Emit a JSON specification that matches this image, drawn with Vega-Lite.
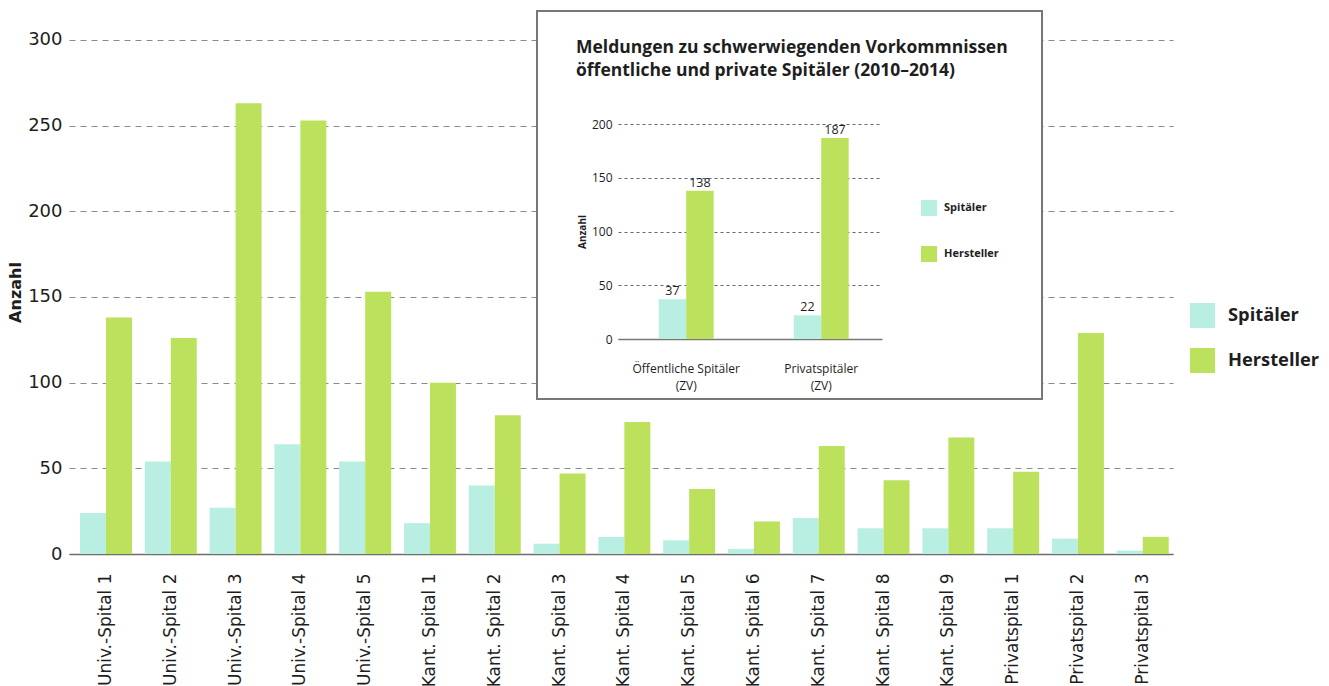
{
  "$schema": "https://vega.github.io/schema/vega-lite/v6.json",
  "padding": {"left": 7, "top": 10, "right": 5, "bottom": 0},
  "datasets": {
    "main": [
      {"spital": "Univ.-Spital 1", "typ": "Spitäler", "anzahl": 24},
      {"spital": "Univ.-Spital 1", "typ": "Hersteller", "anzahl": 138},
      {"spital": "Univ.-Spital 2", "typ": "Spitäler", "anzahl": 54},
      {"spital": "Univ.-Spital 2", "typ": "Hersteller", "anzahl": 126},
      {"spital": "Univ.-Spital 3", "typ": "Spitäler", "anzahl": 27},
      {"spital": "Univ.-Spital 3", "typ": "Hersteller", "anzahl": 263},
      {"spital": "Univ.-Spital 4", "typ": "Spitäler", "anzahl": 64},
      {"spital": "Univ.-Spital 4", "typ": "Hersteller", "anzahl": 253},
      {"spital": "Univ.-Spital 5", "typ": "Spitäler", "anzahl": 54},
      {"spital": "Univ.-Spital 5", "typ": "Hersteller", "anzahl": 153},
      {"spital": "Kant. Spital 1", "typ": "Spitäler", "anzahl": 18},
      {"spital": "Kant. Spital 1", "typ": "Hersteller", "anzahl": 100},
      {"spital": "Kant. Spital 2", "typ": "Spitäler", "anzahl": 40},
      {"spital": "Kant. Spital 2", "typ": "Hersteller", "anzahl": 81},
      {"spital": "Kant. Spital 3", "typ": "Spitäler", "anzahl": 6},
      {"spital": "Kant. Spital 3", "typ": "Hersteller", "anzahl": 47},
      {"spital": "Kant. Spital 4", "typ": "Spitäler", "anzahl": 10},
      {"spital": "Kant. Spital 4", "typ": "Hersteller", "anzahl": 77},
      {"spital": "Kant. Spital 5", "typ": "Spitäler", "anzahl": 8},
      {"spital": "Kant. Spital 5", "typ": "Hersteller", "anzahl": 38},
      {"spital": "Kant. Spital 6", "typ": "Spitäler", "anzahl": 3},
      {"spital": "Kant. Spital 6", "typ": "Hersteller", "anzahl": 19},
      {"spital": "Kant. Spital 7", "typ": "Spitäler", "anzahl": 21},
      {"spital": "Kant. Spital 7", "typ": "Hersteller", "anzahl": 63},
      {"spital": "Kant. Spital 8", "typ": "Spitäler", "anzahl": 15},
      {"spital": "Kant. Spital 8", "typ": "Hersteller", "anzahl": 43},
      {"spital": "Kant. Spital 9", "typ": "Spitäler", "anzahl": 15},
      {"spital": "Kant. Spital 9", "typ": "Hersteller", "anzahl": 68},
      {"spital": "Privatspital 1", "typ": "Spitäler", "anzahl": 15},
      {"spital": "Privatspital 1", "typ": "Hersteller", "anzahl": 48},
      {"spital": "Privatspital 2", "typ": "Spitäler", "anzahl": 9},
      {"spital": "Privatspital 2", "typ": "Hersteller", "anzahl": 129},
      {"spital": "Privatspital 3", "typ": "Spitäler", "anzahl": 2},
      {"spital": "Privatspital 3", "typ": "Hersteller", "anzahl": 10}
    ],
    "inset": [
      {"gruppe": "Öffentliche Spitäler (ZV)", "typ": "Spitäler", "anzahl": 37},
      {"gruppe": "Öffentliche Spitäler (ZV)", "typ": "Hersteller", "anzahl": 138},
      {"gruppe": "Privatspitäler (ZV)", "typ": "Spitäler", "anzahl": 22},
      {"gruppe": "Privatspitäler (ZV)", "typ": "Hersteller", "anzahl": 187}
    ]
  },
  "hconcat": [
    {
      "width": 1104,
      "height": 543,
      "data": {"name": "main"},
      "mark": {"type": "bar"},
      "encoding": {
        "x": {
          "field": "spital", "type": "nominal", "sort": null,
          "scale": {"paddingInner": 0.198, "paddingOuter": 0.118, "align": 0.72},
          "axis": {
            "title": null, "labelAngle": -90, "labelAlign": "right", "labelBaseline": "middle",
            "labelPadding": 19, "labelFontSize": 17, "labelFont": "DejaVu Sans", "labelColor": "#1e1e1e",
            "ticks": false, "domainColor": "#6e6e6e", "domainWidth": 1.5, "labelOverlap": false
          }
        },
        "xOffset": {"field": "typ", "type": "nominal", "sort": ["Spitäler", "Hersteller"]},
        "y": {
          "field": "anzahl", "type": "quantitative",
          "scale": {"domain": [0, 316.9], "nice": false},
          "axis": {
            "values": [0, 50, 100, 150, 200, 250, 300],
            "title": "Anzahl", "titleFont": "DejaVu Sans", "titleFontSize": 16, "titleFontWeight": "bold",
            "titleColor": "#1e1e1e", "titleY": 281, "titlePadding": 4,
            "labelFont": "DejaVu Sans", "labelFontSize": 18, "labelColor": "#1e1e1e", "labelPadding": 7,
            "domain": false, "ticks": false,
            "grid": true, "gridColor": "#8a8a8a", "gridDash": [6, 5], "gridWidth": 1.2
          }
        },
        "color": {
          "field": "typ", "type": "nominal", "sort": ["Spitäler", "Hersteller"],
          "scale": {"domain": ["Spitäler", "Hersteller"], "range": ["#b9eee2", "#bce25d"]},
          "legend": {
            "title": null, "orient": "none", "legendX": 1121, "legendY": 292,
            "symbolType": "square", "symbolSize": 625, "symbolOpacity": 1, "symbolStrokeWidth": 0,
            "labelFont": "Open Sans", "labelFontSize": 18.3, "labelFontWeight": "bold", "labelColor": "#1e1e1e",
            "labelOffset": 13, "rowPadding": 20, "padding": 0
          }
        }
      }
    },
    {
      "width": 505,
      "height": 388,
      "view": {"stroke": "#777777", "strokeWidth": 2, "fill": "white"},
      "data": {"name": "inset"},
      "title": {
        "text": ["Meldungen zu schwerwiegenden Vorkommnissen", "öffentliche und private Spitäler (2010–2014)"],
        "anchor": "start", "frame": "group", "offset": 0, "dx": 39, "dy": 68,
        "font": "Open Sans", "fontSize": 17.5, "fontWeight": "bold", "lineHeight": 23, "color": "#1e1e1e"
      },
      "encoding": {
        "x": {
          "field": "gruppe", "type": "nominal", "sort": null,
          "scale": {"range": [81, 345], "paddingInner": 0.593, "paddingOuter": 0.274, "align": 0.55},
          "axis": {
            "title": null, "orient": "bottom", "offset": -60, "labelAngle": 0,
            "labelExpr": "[slice(datum.label, 0, indexof(datum.label, ' (')), slice(datum.label, indexof(datum.label, ' (') + 1)]",
            "labelFont": "Open Sans", "labelFontSize": 12, "labelLineHeight": 17, "labelColor": "#1e1e1e",
            "labelBaseline": "top", "labelPadding": 24,
            "ticks": false, "domainColor": "#777777", "domainWidth": 1.5
          }
        },
        "xOffset": {"field": "typ", "type": "nominal", "sort": ["Spitäler", "Hersteller"]},
        "y": {
          "field": "anzahl", "type": "quantitative",
          "scale": {"domain": [0, 200], "nice": false, "range": [328, 113]},
          "axis": {
            "values": [0, 50, 100, 150, 200], "offset": -81,
            "title": "Anzahl", "titleFont": "Open Sans", "titleFontSize": 10, "titleFontWeight": "bold",
            "titleColor": "#1e1e1e", "titlePadding": 4,
            "labelFont": "Open Sans", "labelFontSize": 12, "labelColor": "#1e1e1e", "labelPadding": 6,
            "domain": false, "ticks": false,
            "grid": true, "gridColor": "#666666", "gridDash": [3, 3], "gridWidth": 1
          }
        }
      },
      "layer": [
        {
          "mark": {"type": "bar"},
          "encoding": {
            "color": {
              "field": "typ", "type": "nominal", "sort": ["Spitäler", "Hersteller"],
              "scale": {"domain": ["Spitäler", "Hersteller"], "range": ["#b9eee2", "#bce25d"]},
              "legend": {
                "title": null, "orient": "none", "legendX": 384, "legendY": 189,
                "symbolType": "square", "symbolSize": 256, "symbolOpacity": 1, "symbolStrokeWidth": 0,
                "labelFont": "Open Sans", "labelFontSize": 11, "labelFontWeight": "bold", "labelColor": "#1e1e1e",
                "labelOffset": 7, "rowPadding": 30, "padding": 0
              }
            }
          }
        },
        {
          "mark": {"type": "text", "baseline": "bottom", "dy": -1, "font": "Open Sans", "fontSize": 12.5, "color": "#1e1e1e"},
          "encoding": {
            "text": {"field": "anzahl", "type": "quantitative"}
          }
        }
      ]
    }
  ],
  "spacing": -636,
  "bounds": "flush",
  "align": "none",
  "resolve": {
    "scale": {"x": "independent", "y": "independent", "xOffset": "independent", "color": "independent"},
    "legend": {"color": "independent"},
    "axis": {"x": "independent", "y": "independent"}
  },
  "config": {
    "view": {"stroke": null},
    "background": "white"
  }
}
